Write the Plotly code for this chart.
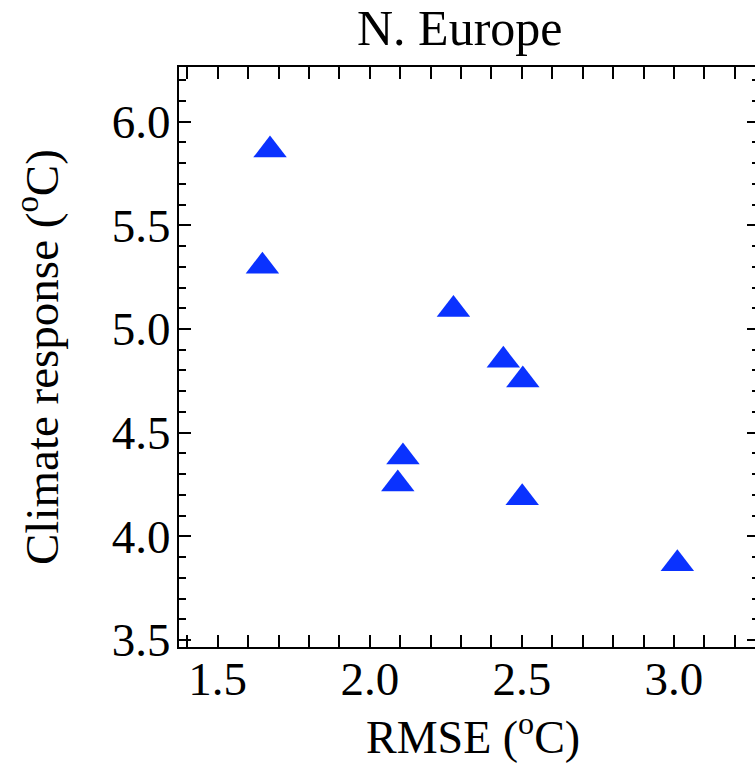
import plotly.graph_objects as go

# Data
rmse = [1.672, 1.647, 2.275, 2.439, 2.503, 2.109, 2.092, 2.501, 3.011]
climate_response = [5.863, 5.303, 5.094, 4.849, 4.754, 4.383, 4.252, 4.186, 3.868]

x_ticks = [1.5, 2.0, 2.5, 3.0]
x_tick_labels = ["1.5", "2.0", "2.5", "3.0"]
y_ticks = [3.5, 4.0, 4.5, 5.0, 5.5, 6.0]
y_tick_labels = ["3.5", "4.0", "4.5", "5.0", "5.5", "6.0"]

title_text = "N. Europe"
x_title = "RMSE (<sup>o</sup>C)"
y_title = "Climate response (<sup>o</sup>C)"

W, H = 755, 764
L, R, T, B = 179, 0, 67, 117
x_range = [1.3728, 3.2663]
y_range = [3.4662, 6.2639]

FONT = "Liberation Serif, Times New Roman, serif"
BLUE = "#0a32ff"

fig = go.Figure()
fig.add_trace(go.Scatter(
    x=rmse, y=climate_response, mode="markers",
    marker=dict(symbol="triangle-up", size=29, color=BLUE, line=dict(width=0)),
    showlegend=False, hoverinfo="x+y",
))
# invisible trace to carry the right-hand tick axis
fig.add_trace(go.Scatter(
    x=rmse, y=climate_response, mode="markers", yaxis="y2",
    marker=dict(opacity=0), showlegend=False, hoverinfo="skip",
))

axis_common = dict(
    showgrid=False, zeroline=False,
    ticks="inside", ticklen=12, tickwidth=2, tickcolor="black",
    linecolor="black", linewidth=2,
    tickfont=dict(family=FONT, size=47, color="black"),
)

fig.update_layout(
    width=W, height=H,
    margin=dict(l=L, r=R, t=T, b=B, pad=0),
    paper_bgcolor="white", plot_bgcolor="white",
    xaxis=dict(
        range=x_range, tickmode="array", tickvals=x_ticks, ticktext=x_tick_labels,
        showline=True, mirror="allticks",
        minor=dict(dtick=0.1, tick0=0, ticks="inside", ticklen=7, tickwidth=2, tickcolor="black"),
        ticklabelstandoff=-10,
        **axis_common,
    ),
    yaxis=dict(
        range=y_range, tickmode="array", tickvals=y_ticks, ticktext=y_tick_labels,
        showline=True, mirror=False,
        minor=dict(dtick=0.1, tick0=0, ticks="inside", ticklen=7, tickwidth=2, tickcolor="black"),
        ticklabelstandoff=-3,
        **axis_common,
    ),
    yaxis2=dict(
        range=y_range, overlaying="y", side="right", anchor="x",
        tickmode="array", tickvals=y_ticks, showticklabels=False,
        showgrid=False, zeroline=False, showline=False,
        ticks="inside", ticklen=8, tickwidth=2, tickcolor="black",
        minor=dict(dtick=0.1, tick0=0, ticks="inside", ticklen=3, tickwidth=2, tickcolor="black"),
    ),
    annotations=[
        dict(text=title_text, xref="paper", yref="paper",
             x=(460 - L) / (W - L - R), y=1 + (T - 28) / (H - T - B),
             xanchor="center", yanchor="middle", showarrow=False,
             font=dict(family=FONT, size=50, color="black")),
        dict(text=x_title, xref="paper", yref="paper",
             x=(473 - L) / (W - L - R), y=-(734 - (H - B)) / (H - T - B),
             xanchor="center", yanchor="middle", showarrow=False,
             font=dict(family=FONT, size=46, color="black")),
        dict(text=y_title, xref="paper", yref="paper", textangle=-90,
             x=-(L - 38) / (W - L - R), y=0.5,
             xanchor="center", yanchor="middle", showarrow=False,
             font=dict(family=FONT, size=47, color="black")),
    ],
)

fig.write_html("out.html")
